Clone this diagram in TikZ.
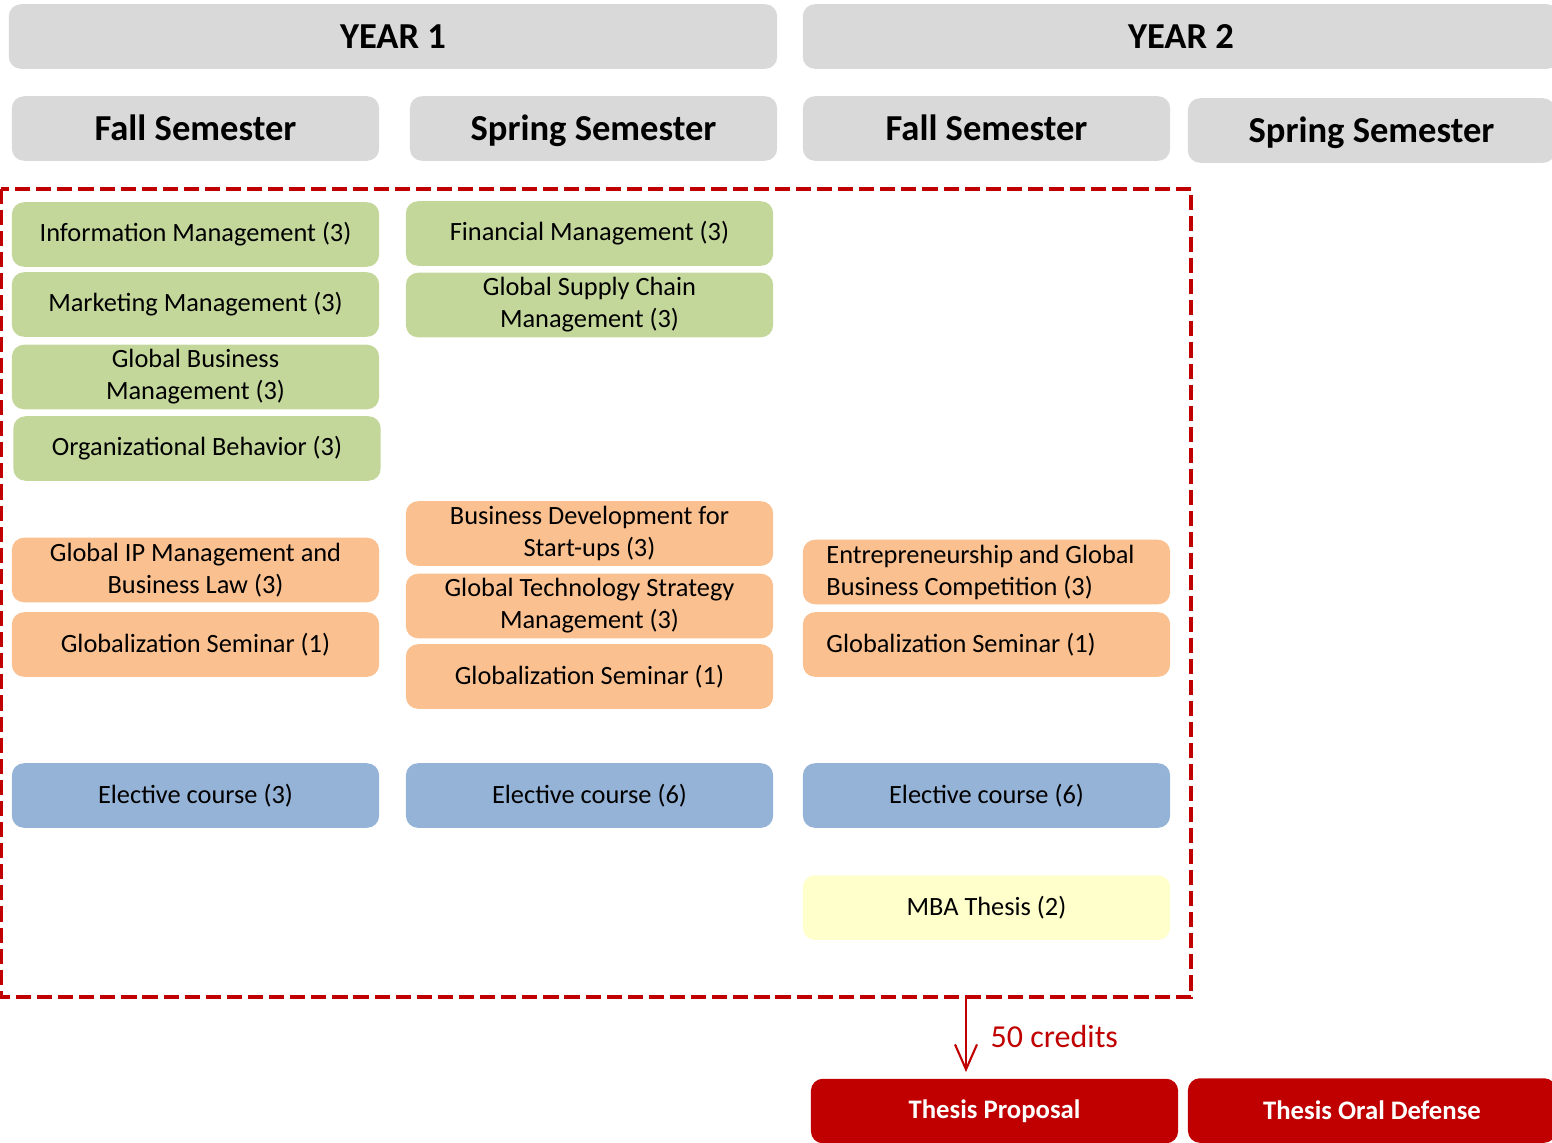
\documentclass[tikz,border=0pt]{standalone}
\usepackage{fontspec}
\setmainfont{Carlito}
\usetikzlibrary{arrows.meta}
\usetikzlibrary{calc}
\definecolor{headgray}{HTML}{D9D9D9}
\definecolor{coregreen}{HTML}{C4D79B}
\definecolor{majororange}{HTML}{FAC090}
\definecolor{electblue}{HTML}{95B3D7}
\definecolor{thesisyellow}{HTML}{FFFFCC}
\definecolor{thesisred}{HTML}{C00000}
\tikzset{
	box/.style={rounded corners=0.12cm, minimum width=3.67cm, minimum height=0.645cm, inner sep=0pt, align=center, font=\fontsize{7.5}{9.1}\selectfont},
	head/.style={box, fill=headgray, text height=8.6pt, text depth=2pt, font=\bfseries\fontsize{10.4}{12}\selectfont},
	year/.style={head, minimum width=7.68cm},
	core/.style={box, fill=coregreen},
	major/.style={box, fill=majororange},
	majorleft/.style={major, text width=3.2cm, align=flush left, inner xsep=0.235cm},
	elective/.style={box, fill=electblue},
	thesis/.style={box, fill=thesisyellow},
	milestone/.style={box, fill=thesisred, text=white, font=\bfseries\fontsize{7.6}{9}\selectfont},
	frame/.style={draw=thesisred, line width=1.2pt, dash pattern=on 4.3pt off 1.7pt},
	creditarrow/.style={draw=thesisred, line width=0.6pt, -{Straight Barb[length=2.5mm, width=2.2mm]}}
}
\newcommand{\course}[5] % name, x in px, y in px, style, text
{
	\node[#4] (#1) at (#2,#3) {#5};
}

\begin{document}
\begin{tikzpicture}[x=0.01cm, y=-0.01cm]
	% page: 1552 x 1142 px, y runs down
	\useasboundingbox (0,0) rectangle (1552,1142);

	% years
	\course{yearone}{393}{36.5}{year}{YEAR 1}
	\course{yeartwo}{1181}{36.5}{year, minimum width=7.56cm}{YEAR 2}

	% semesters
	\course{fallone}{195.5}{128.5}{head}{Fall Semester}
	\course{springone}{593.5}{128.5}{head}{Spring Semester}
	\course{falltwo}{986.5}{128.5}{head}{Fall Semester}
	\course{springtwo}{1371.5}{130.5}{head}{Spring Semester}

	% courses needed for the proposal
	\draw[frame] (1,189) rectangle (1191,997);

	% core courses
	\course{infomgmt}{195.5}{234.5}{core}{Information Management (3)}
	\course{mktmgmt}{195.5}{304.5}{core}{Marketing Management (3)}
	\course{gbmgmt}{195.5}{377}{core}{Global Business\\Management (3)}
	\course{orgbeh}{197}{448.5}{core}{Organizational Behavior (3)}
	\course{finmgmt}{589.5}{233.5}{core}{Financial Management (3)}
	\course{supply}{589.5}{305}{core}{Global Supply Chain\\Management (3)}

	% major courses
	\course{iplaw}{195.5}{570}{major}{Global IP Management and\\Business Law (3)}
	\course{seminarone}{195.5}{644.5}{major}{Globalization Seminar (1)}
	\course{startups}{589.5}{533.5}{major}{Business Development for\\Start-ups (3)}
	\course{techstrat}{589.5}{606}{major}{Global Technology Strategy\\Management (3)}
	\course{seminartwo}{589.5}{676.5}{major}{Globalization Seminar (1)}
	\course{entrepren}{986.5}{572}{majorleft}{Entrepreneurship and Global\\Business Competition (3)}
	\course{seminarthree}{986.5}{644.5}{majorleft}{Globalization Seminar (1)}

	% electives
	\course{electone}{195.5}{795.5}{elective}{Elective course (3)}
	\course{electtwo}{589.5}{795.5}{elective}{Elective course (6)}
	\course{electthree}{986.5}{795.5}{elective}{Elective course (6)}

	% thesis
	\course{mbathesis}{986.5}{907.5}{thesis}{MBA Thesis (2)}

	% milestones
	\course{proposal}{994.5}{1111}{milestone}{Thesis Proposal}
	\course{defense}{1372}{1110.5}{milestone, minimum width=3.68cm}{Thesis Oral Defense}

	% 50 credits
	\coordinate (credits) at (966,997);
	\draw[creditarrow] (credits) -- ($(credits |- proposal.north)+(0,-6)$);
	\node[anchor=west, text=thesisred, font=\fontsize{9.1}{11}\selectfont, inner sep=0pt] (creditlabel) at (990,1036) {50 credits};
\end{tikzpicture}
\end{document}
